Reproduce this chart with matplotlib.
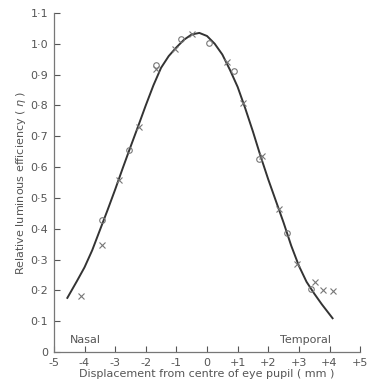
import numpy as np
import matplotlib.pyplot as plt

# fitted curve
curve_x = [-4.56, -4.25, -4.0, -3.75, -3.5, -3.25, -3.0, -2.75, -2.5, -2.25, -2.0, -1.75,
           -1.5, -1.25, -1.0, -0.75, -0.5, -0.25, 0.0, 0.25, 0.5, 0.75, 1.0, 1.25, 1.5,
           1.75, 2.0, 2.25, 2.5, 2.75, 3.0, 3.25, 3.5, 3.75, 4.1]
curve_y = [0.176, 0.23, 0.275, 0.33, 0.395, 0.46, 0.527, 0.597, 0.665, 0.732, 0.80, 0.865,
           0.922, 0.96, 0.988, 1.013, 1.03, 1.035, 1.025, 1.0, 0.965, 0.915, 0.86, 0.79, 0.715,
           0.635, 0.56, 0.49, 0.42, 0.345, 0.28, 0.228, 0.19, 0.155, 0.11]

# measured points: circles
circ_x = [-3.42, -2.54, -1.66, -0.85, 0.05, 0.89, 1.70, 2.62, 3.41]
circ_y = [0.427, 0.657, 0.930, 1.015, 1.001, 0.910, 0.627, 0.385, 0.206]

# measured points: crosses
cross_x = [-4.10, -3.42, -2.86, -2.22, -1.66, -1.06, -0.49, 0.64, 1.18, 1.81, 2.34, 2.93, 3.52, 3.80, 4.12]
cross_y = [0.181, 0.349, 0.559, 0.729, 0.918, 0.983, 1.031, 0.940, 0.807, 0.637, 0.463, 0.287, 0.228, 0.202, 0.197]

xticks = [-5, -4, -3, -2, -1, 0, 1, 2, 3, 4, 5]
xticklabels = ['-5', '-4', '-3', '-2', '-1', '0', '+1', '+2', '+3', '+4', '+5']
yticks = [0, 0.1, 0.2, 0.3, 0.4, 0.5, 0.6, 0.7, 0.8, 0.9, 1.0, 1.1]
yticklabels = ['0', '0·1', '0·2', '0·3', '0·4', '0·5', '0·6', '0·7', '0·8', '0·9', '1·0', '1·1']

ink = '#555555'
fig = plt.figure(figsize=(3.69, 3.90), dpi=100)
ax = fig.add_axes([0.146, 0.097, 0.83, 0.87])

ax.plot(curve_x, curve_y, color='#333333', lw=1.4, solid_joinstyle='round')
ax.plot(circ_x, circ_y, 'o', mfc='none', mec='#777777', ms=4, mew=0.8)
ax.plot(cross_x, cross_y, 'x', color='#777777', ms=4.5, mew=0.8)

ax.set_xlim(-5, 5)
ax.set_ylim(0, 1.1)
ax.set_xticks(xticks)
ax.set_xticklabels(xticklabels)
ax.set_yticks(yticks)
ax.set_yticklabels(yticklabels)
ax.tick_params(direction='in', length=4, width=0.8, colors=ink, labelsize=8, pad=4)

for s in ['top', 'right']:
    ax.spines[s].set_visible(False)
for s in ['left', 'bottom']:
    ax.spines[s].set_color('#777777')
    ax.spines[s].set_linewidth(0.9)

ax.text(-4.48, 0.04, 'Nasal', fontsize=8, color=ink, va='center')
ax.text(2.38, 0.04, 'Temporal', fontsize=8, color=ink, va='center')

ax.set_xlabel('Displacement from centre of eye pupil ( mm )', fontsize=8, color=ink, labelpad=1)
ax.set_ylabel('Relative luminous efficiency ( $\\eta$ )', fontsize=8, color=ink, labelpad=2)

fig.savefig('out.png', dpi=100)
